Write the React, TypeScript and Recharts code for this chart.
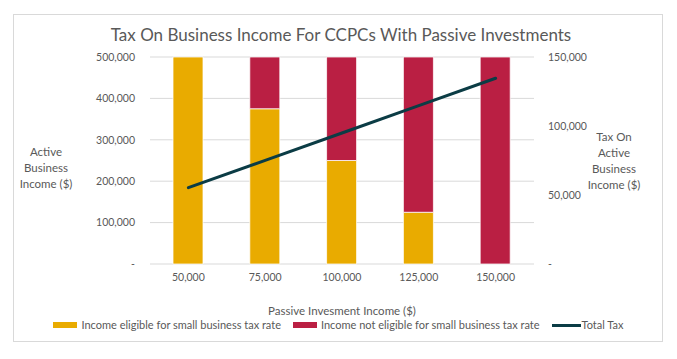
import React from 'react';
import { ComposedChart, Bar, Line, XAxis, YAxis, CartesianGrid, Legend } from 'recharts';

const categories = ['50,000', '75,000', '100,000', '125,000', '150,000'];
const eligibleIncome = [500000, 375000, 250000, 125000, 0];
const notEligibleIncome = [0, 125000, 250000, 375000, 500000];
const totalTax = [55300, 75100, 94900, 114800, 134600];
const leftTicks = [0, 100000, 200000, 300000, 400000, 500000];
const rightTicks = [0, 50000, 100000, 150000];

const seriesNames = {
  eligible: 'Income eligible for small business tax rate',
  notEligible: 'Income not eligible for small business tax rate',
  tax: 'Total Tax',
};

const COLORS = {
  eligible: '#E9AB00',
  notEligible: '#BA1F43',
  tax: '#0B3C45',
  grid: '#D9D9D9',
  text: '#595959',
};

const FONT = "Lato, 'Open Sans', sans-serif";

const data = categories.map((c, i) => ({
  name: c,
  eligible: eligibleIncome[i],
  notEligible: notEligibleIncome[i],
  tax: totalTax[i],
}));

const fmt = (v: number) => (v === 0 ? '-' : v.toLocaleString('en-US'));

const MultiLineLabel = (props: any) => {
  const { viewBox, lines, cxOffset, cyOffset } = props;
  if (!viewBox) return null;
  const { x, y, height } = viewBox;
  const cx = x + cxOffset;
  const lh = 16;
  const cy = y + height / 2 + cyOffset;
  const startY = cy - ((lines.length - 1) * lh) / 2;
  return (
    <text
      x={cx}
      y={startY}
      textAnchor="middle"
      fill={COLORS.text}
      fontFamily={FONT}
      fontSize={11.5}
    >
      {lines.map((l: string, i: number) => (
        <tspan key={i} x={cx} y={startY + i * lh} dy="0.35em">
          {l}
        </tspan>
      ))}
    </text>
  );
};

const XTitle = (props: any) => {
  const { viewBox } = props;
  if (!viewBox) return null;
  const { x, y, width } = viewBox;
  return (
    <text
      x={x + width / 2}
      y={y + 47}
      dy="0.35em"
      textAnchor="middle"
      fill={COLORS.text}
      fontFamily={FONT}
      fontSize={11.5}
    >
      Passive Invesment Income ($)
    </text>
  );
};

const LegendContent = () => {
  const item = (swatch: React.ReactNode, label: string, gap: number) => (
    <div style={{ display: 'flex', alignItems: 'center' }}>
      {swatch}
      <span style={{ marginLeft: gap }}>{label}</span>
    </div>
  );
  return (
    <div
      style={{
        display: 'flex',
        justifyContent: 'center',
        alignItems: 'center',
        gap: 12,
        fontFamily: FONT,
        fontSize: 11,
        color: COLORS.text,
        paddingLeft: 0,
        whiteSpace: 'nowrap',
        lineHeight: '14px',
      }}
    >
      {item(<div style={{ width: 24, height: 6, background: COLORS.eligible }} />, seriesNames.eligible, 4)}
      {item(<div style={{ width: 24, height: 6, background: COLORS.notEligible }} />, seriesNames.notEligible, 4)}
      {item(<div style={{ width: 29, height: 3, background: COLORS.tax }} />, seriesNames.tax, 1)}
    </div>
  );
};

export default function App() {
  return (
    <div style={{ position: 'absolute', left: 0, top: 0, width: 677, height: 359, background: '#fff' }}>
      <div
        style={{
          position: 'absolute',
          left: 13,
          top: 14,
          width: 650,
          height: 328,
          border: '1px solid #D9D9D9',
          boxSizing: 'border-box',
        }}
      />
      <div
        style={{
          position: 'absolute',
          left: 0,
          width: 682,
          top: 24,
          textAlign: 'center',
          fontFamily: FONT,
          fontSize: 17,
          color: COLORS.text,
          lineHeight: '22px',
          whiteSpace: 'nowrap',
        }}
      >
        Tax On Business Income For CCPCs With Passive Investments
      </div>
      <div style={{ position: 'absolute', left: 0, top: 0 }}>
        <ComposedChart
          width={677}
          height={359}
          data={data}
          margin={{ top: 57, right: 0, bottom: 0, left: 0 }}
          barCategoryGap="61%"
        >
          <CartesianGrid yAxisId="left" horizontal vertical={false} stroke={COLORS.grid} strokeWidth={1} />
          <XAxis
            dataKey="name"
            height={95}
            tickLine={false}
            axisLine={false}
            tickSize={0}
            tickMargin={10}
            tick={{ fill: COLORS.text, fontFamily: FONT, fontSize: 10.5 }}
            label={<XTitle />}
          />
          <YAxis
            yAxisId="left"
            orientation="left"
            width={150}
            domain={[0, 500000]}
            ticks={leftTicks}
            tickFormatter={fmt}
            tickLine={false}
            axisLine={false}
            tickSize={0}
            tickMargin={15}
            tick={{ fill: COLORS.text, fontFamily: FONT, fontSize: 10.5 }}
            label={<MultiLineLabel lines={['Active', 'Business', 'Income ($)']} cxOffset={46} cyOffset={7.5} />}
          />
          <YAxis
            yAxisId="right"
            orientation="right"
            width={143}
            domain={[0, 150000]}
            ticks={rightTicks}
            tickFormatter={fmt}
            tickLine={false}
            axisLine={false}
            tickSize={0}
            tickMargin={14}
            tick={{ fill: COLORS.text, fontFamily: FONT, fontSize: 10.5, textAnchor: 'start' }}
            label={<MultiLineLabel lines={['Tax On', 'Active', 'Business', 'Income ($)']} cxOffset={80} cyOffset={0.5} />}
          />
          <Legend
            layout="horizontal"
            verticalAlign="middle"
            align="center"
            wrapperStyle={{ top: 318, left: 0, width: 677 }}
            content={<LegendContent />}
          />
          <Bar
            yAxisId="left"
            dataKey="eligible"
            name={seriesNames.eligible}
            stackId="a"
            fill={COLORS.eligible}
            barSize={30}
            stroke="#fff"
            strokeWidth={0.75}
            isAnimationActive={false}
          />
          <Bar
            yAxisId="left"
            dataKey="notEligible"
            name={seriesNames.notEligible}
            stackId="a"
            fill={COLORS.notEligible}
            barSize={30}
            stroke="#fff"
            strokeWidth={0.75}
            isAnimationActive={false}
          />
          <Line
            yAxisId="right"
            dataKey="tax"
            name={seriesNames.tax}
            type="linear"
            stroke={COLORS.tax}
            strokeWidth={3}
            strokeLinecap="round"
            dot={false}
            activeDot={false}
            isAnimationActive={false}
          />
        </ComposedChart>
      </div>
    </div>
  );
}
